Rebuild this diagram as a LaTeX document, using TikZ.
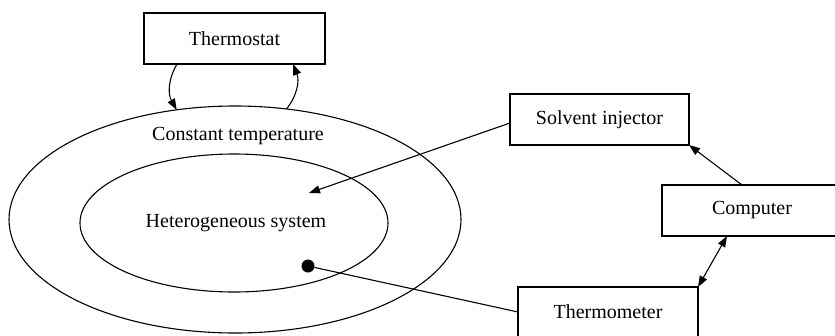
\documentclass[tikz,border=0pt]{standalone}
\usepackage{fontspec}
\setmainfont{Liberation Serif}
\usepackage{tikz}
\usetikzlibrary{arrows.meta, positioning, shapes.geometric, calc}

\tikzset{
  unitbox/.style={draw, rectangle, line width=1.1pt, inner sep=0pt, outer sep=0pt,
                  minimum width=180pt, minimum height=51pt},
  zone/.style={draw, ellipse, line width=1.1pt, inner sep=0pt, outer sep=0pt},
  flow/.style={line width=1.1pt, -{Triangle[length=11pt,width=8pt]}},
  flowboth/.style={line width=1.1pt, {Triangle[length=11pt,width=8pt]}-{Triangle[length=11pt,width=8pt]}}
}

\begin{document}
\begin{tikzpicture}[x=1pt, y=-1pt, font=\fontsize{20}{24}\selectfont]
\useasboundingbox (0,0) rectangle (835,335);

% bath and sample
\node[zone, minimum width=452pt, minimum height=227pt] (bath) at (235,219.5) {};
\node[zone, minimum width=308pt, minimum height=138pt] (sample) at (234,223) {};
\node (bathtxt) at (238,136) {Constant temperature};
\node (sampletxt) at (236,223) {Heterogeneous system};
\node[circle, fill, inner sep=0pt, minimum size=13pt] (probe) at (308,266) {};
\coordinate (inlet) at (309,193);

% devices
\node[unitbox, minimum width=181pt] (thermostat) at (234.5,38.5) {Thermostat};
\node[unitbox, minimum width=179pt] (injector) at (599.5,119.5) {Solvent injector};
\node[unitbox] (computer) at (752,210.5) {Computer};
\node[unitbox, minimum height=50pt] (thermometer) at (608,312) {Thermometer};

% links
\draw[flow] ([xshift=-57.5pt]thermostat.south) to[bend right=30] (bath.118);
\draw[flow] (bath.65) to[bend right=30] ([xshift=58.5pt]thermostat.south);
\draw[flow] ([yshift=-3.5pt]injector.west) -- (inlet);
\draw[flow] ([xshift=-10pt]computer.north) -- (injector.south east);
\draw[flowboth] (thermometer.north east) -- ([xshift=-25pt]computer.south);
\draw[line width=1.1pt] (thermometer.west) -- (probe);
\end{tikzpicture}
\end{document}
